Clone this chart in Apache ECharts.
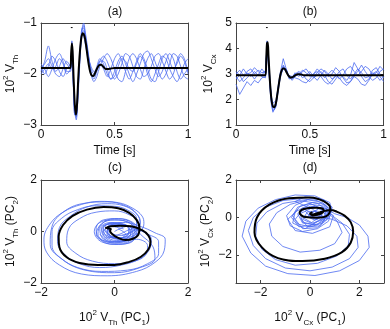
<!DOCTYPE html>
<html>
<head>
<meta charset="utf-8">
<script src="https://cdn.jsdelivr.net/npm/echarts@6/dist/echarts.min.js"></script>
<style>
  html, body { margin: 0; padding: 0; background: #fff; }
  #chart { width: 390px; height: 329px; }
</style>
</head>
<body>
<div id="chart"></div>
<script>
// tick labels
const ticksTime = [0, 0.5, 1];
const ticksTh = [-3, -2, -1];
const ticksCx = [1, 2, 3, 4, 5];
const ticksPC = [-2, 0, 2];

// stimulus marker
const stimT = [0.203, 0.215];
const stimTh = [-1.09, -1.09];
const stimCx = [4.82, 4.82];

// (a) thalamus: fitted response
const thFitT = [0, 0.2, 0.205, 0.21, 0.215, 0.222, 0.23, 0.238, 0.245, 0.255, 0.265, 0.275, 0.285, 0.295, 0.305, 0.315, 0.325, 0.335, 0.345, 0.355, 0.365, 0.38, 0.395, 0.41, 0.425, 0.44, 0.46, 0.5, 1];
const thFit = [-1.88, -1.88, -1.6, -1.4, -1.55, -2.1, -2.6, -2.8, -2.6, -2.0, -1.55, -1.28, -1.2, -1.25, -1.4, -1.62, -1.82, -1.96, -2.03, -2.04, -2.0, -1.9, -1.83, -1.82, -1.86, -1.9, -1.9, -1.88, -1.88];

// time base of single trials
const trialT = [0, 0.025, 0.05, 0.075, 0.1, 0.125, 0.15, 0.175, 0.2, 0.21, 0.22, 0.23, 0.24, 0.25, 0.26, 0.27, 0.28, 0.29, 0.3, 0.32, 0.34, 0.36, 0.38, 0.4, 0.425, 0.45, 0.475, 0.5, 0.525, 0.55, 0.575, 0.6, 0.625, 0.65, 0.675, 0.7, 0.725, 0.75, 0.775, 0.8, 0.825, 0.85, 0.875, 0.9, 0.925, 0.95, 0.975, 1];

// (a) single trials
const thTrials = [
  [-1.95,-1.75,-1.45,-1.75,-1.95,-1.85,-1.7,-1.8,-1.9, -1.4,-2.1,-2.75,-2.9,-2.5,-1.9,-1.4,-1.1,-1.0,-1.15,-1.55,-1.95,-2.1,-1.95,-1.75, -1.65,-1.75,-1.95,-2.1,-2.0,-1.8,-1.6,-1.65,-1.85,-2.05,-2.1,-1.9,-1.7,-1.6,-1.75,-1.95,-2.1,-2.0,-1.8,-1.6,-1.65,-1.85,-2.05,-2.1],
  [-1.8,-1.9,-2.05,-1.9,-1.7,-1.6,-1.75,-1.95,-1.95, -1.5,-2.2,-2.8,-2.8,-2.4,-1.85,-1.45,-1.2,-1.15,-1.25,-1.6,-1.9,-2.0,-1.85,-1.7, -1.8,-2.0,-2.1,-1.95,-1.75,-1.65,-1.8,-2.0,-2.15,-2.0,-1.8,-1.6,-1.55,-1.7,-1.9,-2.05,-1.95,-1.75,-1.6,-1.7,-1.95,-2.1,-2.0,-1.9],
  [-1.9,-1.8,-1.7,-1.85,-2.0,-2.05,-1.9,-1.75,-1.85, -1.35,-2.0,-2.65,-2.85,-2.55,-2.0,-1.5,-1.15,-1.05,-1.2,-1.6,-2.0,-2.15,-2.05,-1.85, -1.7,-1.6,-1.7,-1.9,-2.1,-2.15,-1.95,-1.7,-1.6,-1.7,-1.9,-2.05,-2.0,-1.85,-1.65,-1.6,-1.75,-1.95,-2.1,-2.0,-1.75,-1.6,-1.7,-1.95],
  [-1.85,-2.0,-1.85,-1.65,-1.75,-1.95,-2.05,-1.9,-1.8, -1.45,-2.15,-2.7,-2.75,-2.35,-1.8,-1.4,-1.2,-1.25,-1.4,-1.7,-2.0,-2.05,-1.9,-1.8, -1.9,-2.05,-1.9,-1.7,-1.6,-1.75,-1.95,-2.1,-1.95,-1.75,-1.6,-1.7,-1.9,-2.1,-2.15,-1.95,-1.7,-1.6,-1.75,-1.9,-1.8,-1.65,-1.75,-2.0],
  [-2.0,-1.9,-1.8,-1.9,-1.85,-1.7,-1.8,-2.0,-1.9, -1.55,-2.25,-2.8,-2.7,-2.3,-1.8,-1.35,-1.1,-1.1,-1.3,-1.65,-1.85,-1.95,-1.9,-1.75, -1.75,-1.9,-2.1,-2.05,-1.85,-1.7,-1.75,-1.9,-1.95,-1.8,-1.65,-1.75,-2.0,-2.15,-2.0,-1.8,-1.65,-1.7,-1.9,-2.05,-2.15,-2.0,-1.8,-1.7]
];

// (b) cortex: fitted response
const cxFitT = [0, 0.2, 0.205, 0.21, 0.215, 0.22, 0.23, 0.24, 0.25, 0.26, 0.27, 0.28, 0.29, 0.3, 0.31, 0.32, 0.33, 0.34, 0.35, 0.36, 0.37, 0.38, 0.39, 0.4, 0.42, 0.44, 0.46, 0.5, 1];
const cxFit = [2.95, 2.95, 3.6, 4.2, 4.25, 3.7, 2.7, 2.0, 1.72, 1.7, 1.85, 2.2, 2.6, 2.95, 3.15, 3.22, 3.2, 3.1, 2.98, 2.9, 2.86, 2.87, 2.9, 2.95, 2.99, 2.98, 2.95, 2.95, 2.95];

// (b) single trials
const cxTrials = [
  [2.6,2.2,2.45,2.7,2.55,2.75,2.65,2.85,2.9, 4.3,3.5,2.5,1.85,1.55,1.5,1.7,2.1,2.5,2.9,3.35,3.15,2.85,2.8,2.95, 3.05,2.85,2.95,3.1,2.9,2.75,2.95,3.15,3.0,2.8,2.9,3.1,3.2,2.95,2.8,3.0,3.2,3.05,2.85,2.9,3.15,3.25,3.0,2.85],
  [3.0,3.15,2.95,3.1,3.2,3.0,3.15,3.05,3.1, 4.1,3.6,2.7,2.0,1.7,1.65,1.85,2.2,2.6,2.95,3.2,3.1,2.9,2.85,3.05, 2.9,3.1,3.2,3.0,2.85,2.95,3.1,2.95,2.7,2.6,2.8,3.0,2.9,2.75,2.95,3.45,3.2,2.9,2.7,2.8,3.05,2.95,2.75,2.9],
  [2.9,2.7,2.85,3.05,2.9,3.1,2.95,3.2,3.0, 4.2,3.4,2.4,1.8,1.5,1.45,1.75,2.25,2.7,3.05,3.6,3.2,2.8,2.9,3.0, 3.1,3.0,2.8,2.7,2.85,3.05,3.2,3.1,2.9,3.0,3.25,3.1,2.85,2.65,2.7,2.95,3.1,3.35,3.1,2.9,2.75,2.85,3.1,3.2],
  [3.1,2.95,3.2,3.0,3.05,3.25,3.1,2.95,3.15, 3.9,3.3,2.6,2.1,1.85,1.8,1.95,2.3,2.65,3.0,3.3,3.05,2.95,2.9,2.85, 2.8,2.7,2.65,2.8,3.0,3.1,2.9,2.7,2.6,2.75,2.95,2.85,2.65,2.55,2.7,2.9,2.8,2.6,2.55,2.75,3.0,3.1,2.9,2.7],
  [2.8,2.95,2.7,2.85,3.0,2.8,3.0,2.9,2.85, 4.0,3.7,2.8,2.1,1.75,1.6,1.8,2.15,2.55,2.85,3.25,3.2,2.9,2.75,2.9, 3.0,3.15,3.05,2.9,3.0,3.2,3.05,2.85,3.0,3.15,3.0,2.8,2.95,3.2,3.3,3.1,2.95,3.1,3.3,3.2,2.95,3.05,3.3,3.15]
];

// (c) thalamus phase plane [PC1, PC2]
const thPhaseFit = [[-0.25,0.12],[-0.1,0.2],[0.15,0.22],[0.45,0.2],[0.75,0.05],[0.92,-0.15],[0.98,-0.4],[0.92,-0.7],[0.72,-0.98],[0.42,-1.17],[0.0,-1.3],[-0.45,-1.3],[-0.95,-1.22],[-1.3,-1.0],[-1.5,-0.6],[-1.52,-0.2],[-1.4,0.25],[-1.15,0.6],[-0.75,0.85],[-0.3,0.95],[0.1,0.9],[0.4,0.72],[0.6,0.45],[0.68,0.15],[0.65,-0.12],[0.5,-0.28],[0.3,-0.33],[0.1,-0.25],[-0.05,-0.12],[-0.12,0.02],[-0.1,0.1],[-0.2,0.12]];
const thPhaseTrials = [
  [[0.1,0.1],[0.3,-0.1],[0.1,-0.3],[-0.2,-0.1],[-0.1,0.2],[0.2,0.3],[0.4,0.1],[0.3,-0.2],[0.0,-0.25],[-0.3,0.0],[-0.1,0.25],[0.3,0.35],[0.7,0.2],[1.1,-0.05],[1.38,-0.3],[1.35,-0.75],[1.1,-1.2],[0.6,-1.55],[-0.2,-1.72],[-0.9,-1.65],[-1.5,-1.3],[-1.85,-0.8],[-1.92,-0.3],[-1.75,0.3],[-1.4,0.75],[-0.9,1.05],[-0.4,1.17],[0.1,1.12],[0.5,0.9],[0.75,0.6],[0.8,0.3],[0.7,0.0],[0.45,-0.2],[0.2,-0.3],[-0.05,-0.2],[-0.2,0.0],[-0.1,0.2],[0.15,0.25]],
  [[-0.3,0.1],[-0.1,-0.2],[0.2,-0.3],[0.45,-0.05],[0.3,0.25],[0.0,0.3],[-0.35,0.15],[-0.2,-0.25],[0.15,-0.1],[0.5,0.1],[0.9,-0.1],[1.2,-0.4],[1.2,-0.85],[0.9,-1.25],[0.35,-1.5],[-0.35,-1.55],[-1.0,-1.4],[-1.45,-1.05],[-1.7,-0.55],[-1.7,0.0],[-1.45,0.5],[-1.0,0.85],[-0.5,1.0],[0.0,0.98],[0.4,0.8],[0.6,0.5],[0.6,0.2],[0.4,-0.05],[0.15,-0.15],[-0.1,-0.05],[-0.2,0.15],[0.0,0.3]],
  [[0.2,0.2],[-0.1,0.35],[-0.4,0.1],[-0.3,-0.3],[0.05,-0.4],[0.4,-0.2],[0.5,0.15],[0.8,0.0],[1.0,-0.3],[0.95,-0.7],[0.7,-1.05],[0.2,-1.3],[-0.4,-1.4],[-0.95,-1.25],[-1.35,-0.9],[-1.55,-0.4],[-1.5,0.15],[-1.2,0.6],[-0.75,0.95],[-0.2,1.08],[0.25,1.0],[0.55,0.75],[0.7,0.4],[0.6,0.05],[0.35,-0.2],[0.05,-0.25],[-0.2,-0.05],[-0.25,0.2],[0.0,0.35],[0.3,0.2]],
  [[-0.4,-0.1],[-0.1,-0.4],[0.3,-0.35],[0.55,0.0],[0.4,0.35],[0.0,0.45],[-0.35,0.3],[-0.5,-0.1],[0.0,-0.45],[0.6,-0.3],[0.9,-0.55],[0.85,-0.9],[0.55,-1.15],[0.0,-1.25],[-0.6,-1.15],[-1.05,-0.85],[-1.3,-0.4],[-1.25,0.1],[-0.95,0.5],[-0.5,0.75],[0.0,0.8],[0.4,0.65],[0.65,0.35],[0.65,0.0],[0.45,-0.3],[0.1,-0.4],[-0.25,-0.25],[-0.35,0.05],[-0.15,0.3],[0.2,0.35]],
  [[0.0,0.0],[0.35,0.2],[0.6,-0.1],[0.4,-0.45],[0.0,-0.5],[-0.4,-0.3],[-0.5,0.1],[-0.3,0.45],[0.1,0.5],[0.5,0.35],[0.65,0.0],[0.5,-0.35],[0.1,-0.5],[-0.35,-0.4],[-0.55,0.0],[-0.4,0.35],[0.0,0.45],[0.45,0.3],[0.7,-0.1],[1.05,-0.6],[1.1,-1.05],[0.7,-1.4],[0.0,-1.6],[-0.8,-1.5],[-1.4,-1.1],[-1.75,-0.5],[-1.7,0.2],[-1.35,0.8],[-0.8,1.1],[-0.2,1.15],[0.3,1.0],[0.6,0.7],[0.7,0.3],[0.5,0.0],[0.2,-0.15]],
  [[0.1,0.3],[0.45,0.15],[0.5,-0.2],[0.2,-0.45],[-0.2,-0.4],[-0.45,-0.1],[-0.35,0.3],[0.0,0.5],[0.4,0.4],[0.6,0.05],[0.4,-0.3],[0.05,-0.35],[-0.25,-0.15],[-0.3,0.15],[-0.05,0.3],[0.3,0.25],[0.4,-0.05],[0.15,-0.25],[-0.15,-0.1],[-0.1,0.2],[0.25,0.1]]
];

// (d) cortex phase plane [PC1, PC2]
const cxPhaseFit = [[0.1,0.15],[0.35,0.25],[0.6,0.35],[0.84,0.4],[1.1,0.3],[1.4,0.1],[1.65,-0.25],[1.75,-0.75],[1.65,-1.35],[1.3,-1.85],[0.6,-2.2],[-0.3,-2.33],[-1.3,-2.17],[-1.95,-1.6],[-2.25,-0.8],[-2.15,0.0],[-1.65,0.68],[-0.85,1.02],[0.0,1.07],[0.55,0.87],[0.82,0.5],[0.72,0.12],[0.3,-0.01],[-0.2,0.03],[-0.42,0.25],[-0.25,0.45],[0.25,0.52],[0.55,0.4],[0.45,0.2],[0.15,0.12],[0.0,0.2],[0.1,0.28]];
const cxPhaseTrials = [
  [[0.2,0.3],[0.6,0.0],[0.3,-0.4],[-0.3,-0.3],[-0.5,0.2],[0.0,0.6],[0.6,0.5],[1.0,0.2],[1.5,0.0],[2.0,-0.4],[2.35,-1.0],[2.4,-1.6],[2.0,-2.3],[1.2,-2.85],[0.2,-3.1],[-0.9,-3.0],[-1.8,-2.6],[-2.4,-1.9],[-2.75,-1.0],[-2.6,-0.2],[-2.1,0.5],[-1.4,0.95],[-0.6,1.2],[0.2,1.15],[0.8,0.8],[0.9,0.35],[0.5,0.0],[0.0,0.05],[-0.2,0.35]],
  [[-0.4,0.0],[-0.1,-0.5],[0.4,-0.45],[0.7,0.1],[0.3,0.55],[-0.3,0.5],[0.2,0.1],[0.9,-0.1],[1.5,-0.45],[1.9,-1.0],[1.95,-1.6],[1.6,-2.2],[0.9,-2.65],[0.0,-2.85],[-1.0,-2.7],[-1.8,-2.2],[-2.3,-1.5],[-2.5,-0.7],[-2.3,0.0],[-1.8,0.55],[-1.1,0.9],[-0.4,1.0],[0.3,0.9],[0.7,0.55],[0.6,0.1],[0.2,-0.15],[-0.2,0.1]],
  [[0.3,-0.2],[-0.2,-0.6],[-0.7,-0.3],[-0.6,0.3],[0.0,0.7],[0.6,0.6],[0.9,0.1],[1.3,-0.3],[1.6,-0.9],[1.55,-1.5],[1.1,-2.05],[0.3,-2.45],[-0.6,-2.55],[-1.4,-2.25],[-1.95,-1.7],[-2.2,-1.0],[-2.15,-0.3],[-1.75,0.3],[-1.1,0.75],[-0.4,0.9],[0.3,0.75],[0.75,0.35],[0.6,-0.1],[0.1,-0.3],[-0.3,0.0]],
  [[-0.5,0.4],[-0.9,-0.1],[-0.6,-0.7],[0.1,-0.85],[0.8,-0.5],[0.95,0.1],[0.5,0.5],[1.1,-0.2],[1.3,-0.8],[1.0,-1.4],[0.4,-1.75],[-0.4,-1.85],[-1.1,-1.55],[-1.55,-1.0],[-1.65,-0.35],[-1.35,0.25],[-0.8,0.7],[-0.1,0.95],[0.5,0.8],[0.85,0.4],[0.7,-0.1],[0.2,-0.4],[-0.3,-0.25],[-0.4,0.2],[0.0,0.45]],
  [[0.0,0.2],[0.4,0.5],[0.7,0.2],[0.5,-0.3],[0.0,-0.5],[-0.5,-0.35],[-0.7,0.1],[-0.4,0.6],[0.1,0.8],[0.6,0.7],[0.85,0.3],[0.75,-0.2],[0.3,-0.6],[-0.3,-0.75],[-0.8,-0.45],[-0.95,0.1],[-0.6,0.65],[0.0,1.0],[0.55,0.95],[0.9,0.55],[0.8,0.05],[0.35,-0.15],[-0.1,0.05],[0.2,0.35],[0.5,0.15],[0.25,-0.1],[-0.1,0.2]],
  [[0.2,0.6],[-0.3,0.4],[-0.6,-0.1],[-0.3,-0.6],[0.3,-0.55],[0.7,-0.1],[0.5,0.45],[0.0,0.75],[-0.5,0.55],[-0.75,0.0],[-0.45,-0.5],[0.1,-0.4],[0.55,0.0],[0.3,0.35],[-0.1,0.3],[-0.3,-0.1],[0.05,-0.3],[0.4,0.1],[0.1,0.45],[-0.6,0.85],[-0.2,1.1],[0.4,1.0],[0.8,0.6]]
];

const FONT = '"Liberation Sans", Arial, Helvetica, sans-serif';
const AX = '#444';
const BLUE = '#4a6af0';

function minus(v) {
  return String(v).replace('-', '\u2212');
}

const nameStyle = {
  fontSize: 12, fontFamily: FONT, color: '#111', lineHeight: 18,
  rich: {
    sup: { fontSize: 8, fontFamily: FONT, color: '#111', lineHeight: 10, verticalAlign: 'top' },
    sub: { fontSize: 8, fontFamily: FONT, color: '#111', lineHeight: 10, verticalAlign: 'bottom' }
  }
};

function axis(grid, pos, min, max, ticks, name, gap) {
  const main = pos === 'bottom' || pos === 'left';
  return {
    type: 'value', gridIndex: grid, position: pos, min: min, max: max,
    axisLine: { show: true, onZero: false, lineStyle: { color: AX, width: 1 } },
    axisTick: { show: true, inside: true, length: 3, customValues: ticks, lineStyle: { color: AX } },
    axisLabel: {
      show: main, customValues: ticks, formatter: minus,
      color: '#111', fontSize: 12, fontFamily: FONT, margin: 4
    },
    splitLine: { show: false },
    name: main ? name : '', nameLocation: 'middle', nameGap: gap,
    nameTextStyle: nameStyle
  };
}

function pairs(t, v) {
  return t.map((x, i) => [x, v[i]]);
}

function trace(ax, data, blue, smooth) {
  return {
    type: 'line', xAxisIndex: ax, yAxisIndex: ax, data: data,
    symbol: 'none', smooth: smooth, silent: true,
    lineStyle: blue ? { color: BLUE, width: 0.8 } : { color: '#000', width: 2 },
    z: blue ? 2 : 3
  };
}

const labTh = '10{sup|2} V{sub|Th}';
const labCx = '10{sup|2} V{sub|Cx}';

const xAxes = [
  axis(0, 'bottom', 0, 1, ticksTime, 'Time [s]', 13),
  axis(1, 'bottom', 0, 1, ticksTime, 'Time [s]', 13),
  axis(2, 'bottom', -2, 2, ticksPC, labTh + ' (PC{sub|1})', 26),
  axis(3, 'bottom', -3, 3, ticksPC, labCx + ' (PC{sub|1})', 26),
  axis(0, 'top', 0, 1, ticksTime),
  axis(1, 'top', 0, 1, ticksTime),
  axis(2, 'top', -2, 2, ticksPC),
  axis(3, 'top', -3, 3, ticksPC)
];
const yAxes = [
  axis(0, 'left', -3, -1, ticksTh, labTh, 18),
  axis(1, 'left', 1, 5, ticksCx, labCx, 18),
  axis(2, 'left', -2, 2, ticksPC, labTh + ' (PC{sub|2})', 18),
  axis(3, 'left', -3.5, 2, ticksPC, labCx + ' (PC{sub|2})', 18),
  axis(0, 'right', -3, -1, ticksTh),
  axis(1, 'right', 1, 5, ticksCx),
  axis(2, 'right', -2, 2, ticksPC),
  axis(3, 'right', -3.5, 2, ticksPC)
];

const series = [];
thTrials.forEach(v => series.push(trace(0, pairs(trialT, v), true, 0.3)));
series.push(trace(0, pairs(thFitT, thFit), false, 0.3));
series.push(Object.assign(trace(0, pairs(stimT, stimTh), false, false), { lineStyle: { color: '#000', width: 1 } }));

cxTrials.forEach(v => series.push(trace(1, pairs(trialT, v), true, false)));
series.push(trace(1, pairs(cxFitT, cxFit), false, 0.3));
series.push(Object.assign(trace(1, pairs(stimT, stimCx), false, false), { lineStyle: { color: '#000', width: 1 } }));

thPhaseTrials.forEach(v => series.push(trace(2, v, true, 0.4)));
series.push(trace(2, thPhaseFit, false, 0.4));

cxPhaseTrials.forEach(v => series.push(trace(3, v, true, false)));
series.push(trace(3, cxPhaseFit, false, 0.4));

function title(text, x, y) {
  return {
    text: text, left: x, top: y, textAlign: 'center', padding: 0,
    textStyle: { fontSize: 12, fontWeight: 'normal', fontFamily: FONT, color: '#111' }
  };
}

const chart = echarts.init(document.getElementById('chart'), null, { renderer: 'canvas' });
chart.setOption({
  animation: false,
  backgroundColor: '#fff',
  title: [
    title('(a)', 115, 6),
    title('(b)', 310, 6),
    title('(c)', 115, 162),
    title('(d)', 310, 162)
  ],
  grid: [
    { left: 41, top: 23, width: 147, height: 102 },
    { left: 236, top: 23, width: 148, height: 102 },
    { left: 41, top: 180, width: 147, height: 103 },
    { left: 236, top: 180, width: 148, height: 103 }
  ],
  xAxis: xAxes,
  yAxis: yAxes,
  series: series
});
</script>
</body>
</html>
